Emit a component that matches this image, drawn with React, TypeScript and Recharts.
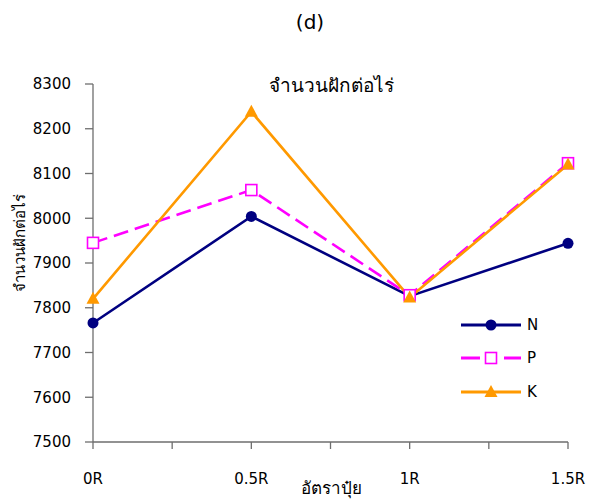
import React from 'react';
import { LineChart, Line, XAxis, YAxis, Legend } from 'recharts';

const categories = ['0R', '0.5R', '1R', '1.5R'];
const nValues = [7766, 8004, 7826, 7944];
const pValues = [7945, 8063, 7828, 8123];
const kValues = [7820, 8238, 7823, 8120];
const yTicks = [7500, 7600, 7700, 7800, 7900, 8000, 8100, 8200, 8300];
// tick marks sit on every category and halfway between them
const xTicks = [0, 0.5, 1, 1.5, 2, 2.5, 3];

const data = categories.map((c, i) => ({
  pos: i,
  label: c,
  N: nValues[i],
  P: pValues[i],
  K: kValues[i],
}));

const FONT = '"DejaVu Sans", "Noto Sans", sans-serif';

type Shape = 'circle' | 'square' | 'triangle';

const series: { key: string; color: string; dash?: string; shape: Shape }[] = [
  { key: 'N', color: '#000080', shape: 'circle' },
  { key: 'P', color: '#FF00FF', dash: '15 7', shape: 'square' },
  { key: 'K', color: '#FF9900', shape: 'triangle' },
];

const Marker = ({ shape, color, cx, cy }: { shape: Shape; color: string; cx: number; cy: number }) => {
  if (shape === 'circle') return <circle cx={cx} cy={cy} r={5.5} fill={color} />;
  if (shape === 'square')
    return <rect x={cx - 5.5} y={cy - 5.5} width={11} height={11} fill="#fff" stroke={color} strokeWidth={1.6} />;
  return <polygon points={`${cx},${cy - 7} ${cx + 6.5},${cy + 5} ${cx - 6.5},${cy + 5}`} fill={color} />;
};

const LegendBox = () => (
  <div style={{ fontFamily: FONT, fontSize: 15 }}>
    {series.map((s) => (
      <div key={s.key} style={{ display: 'flex', alignItems: 'center', height: 33.5 }}>
        <svg width={62} height={16}>
          {s.dash ? (
            <>
              <line x1={0} y1={8} x2={19} y2={8} stroke={s.color} strokeWidth={3} />
              <line x1={43} y1={8} x2={60} y2={8} stroke={s.color} strokeWidth={3} />
            </>
          ) : (
            <line x1={0} y1={8} x2={60} y2={8} stroke={s.color} strokeWidth={3} />
          )}
          <Marker shape={s.shape} color={s.color} cx={30} cy={8} />
        </svg>
        <span style={{ marginLeft: 4, color: '#000' }}>{s.key}</span>
      </div>
    ))}
  </div>
);

export default function App() {
  return (
    <div style={{ position: 'absolute', left: 0, top: 0, width: 598, height: 501, background: '#fff' }}>
      <LineChart width={598} height={501} data={data} margin={{ top: 84, right: 30, bottom: 29, left: 0 }}>
        <XAxis
          dataKey="pos"
          type="number"
          domain={[0, 3]}
          ticks={xTicks}
          height={30}
          tickFormatter={(v: number) => (Number.isInteger(v) ? categories[v] : '')}
          stroke="#6e6e6e"
          strokeWidth={1.3}
          tickSize={7}
          tickMargin={24}
          tick={{ fill: '#000', fontSize: 15, fontFamily: FONT }}
        />
        <YAxis
          type="number"
          domain={[7500, 8300]}
          ticks={yTicks}
          width={93}
          stroke="#6e6e6e"
          strokeWidth={1.3}
          tickSize={8}
          tickMargin={14}
          tick={{ fill: '#000', fontSize: 15, fontFamily: FONT }}
        />
        <Legend
          layout="horizontal"
          verticalAlign="middle"
          content={<LegendBox />}
          wrapperStyle={{ left: 461, top: 308, width: 90 }}
        />
        {series.map((s) => (
          <Line
            key={s.key}
            dataKey={s.key}
            type="linear"
            stroke={s.color}
            strokeWidth={2.6}
            strokeDasharray={s.dash}
            isAnimationActive={false}
            dot={(p: any) => <Marker key={`${s.key}-${p.index}`} shape={s.shape} color={s.color} cx={p.cx} cy={p.cy} />}
            activeDot={false}
          />
        ))}
      </LineChart>
      <div style={{ position: 'absolute', left: 0, width: 620, top: 10, textAlign: 'center', fontFamily: FONT, fontSize: 20 }}>
        (d)
      </div>
      <div style={{ position: 'absolute', left: 231, width: 200, top: 70, textAlign: 'center', fontFamily: FONT, fontSize: 19 }}>
        จำนวนฝักต่อไร่
      </div>
      <div
        style={{
          position: 'absolute',
          left: 20,
          top: 243,
          width: 160,
          textAlign: 'center',
          fontFamily: FONT,
          fontSize: 15,
          transform: 'translate(-50%, -50%) rotate(-90deg)',
        }}
      >
        จำนวนฝักต่อไร่
      </div>
      <div style={{ position: 'absolute', left: 231, width: 200, top: 474, textAlign: 'center', fontFamily: FONT, fontSize: 17 }}>
        อัตราปุ๋ย
      </div>
    </div>
  );
}
